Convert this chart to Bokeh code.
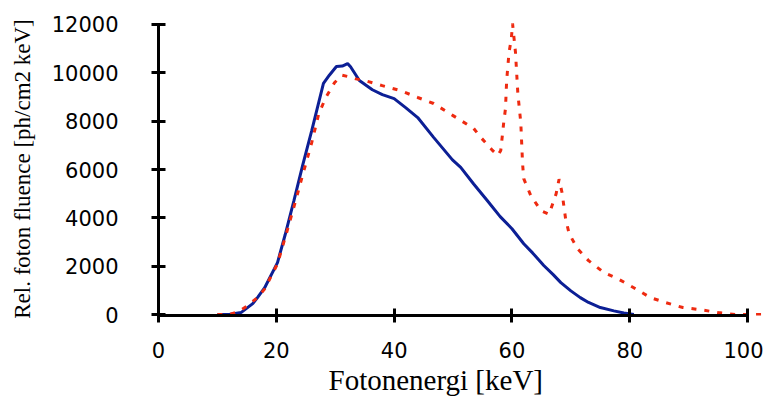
from bokeh.plotting import figure
from bokeh.models import Range1d, FixedTicker, Title
from bokeh.embed import file_html
from bokeh.resources import INLINE

# Spectrum 1 (solid, blue)
blue_kev = [10, 12, 14, 16, 16.8, 18, 20.2, 21.5, 23, 24.5, 26, 28, 29, 30.2, 31.2, 32.1, 32.6,
            34.1, 36.3, 38, 40, 42, 44, 46.7, 49.9, 51.3, 53.5, 55.8, 58, 60, 62, 63.5, 65.4,
            67, 68.3, 70, 71.6, 73, 75, 77.3, 79, 80.7]
blue_val = [0, 0, 80, 450, 700, 1100, 2150, 3300, 4720, 6200, 7600, 9560, 9900, 10260, 10280, 10380, 10250,
            9680, 9300, 9100, 8930, 8550, 8150, 7330, 6400, 6090, 5400, 4720, 4050, 3550, 2930, 2550, 2030,
            1650, 1320, 980, 700, 500, 290, 150, 60, 0]

# Spectrum 2 (dashed, red)
red_kev = [10, 12, 13.6, 15, 16.8, 18, 20.2, 22, 23.5, 24.5, 26, 27.2, 28.4, 29.9, 31.2, 32.1, 33.5,
           35, 38, 41, 44, 46.7, 50, 53.5, 54.7, 56.7, 57.6, 58.1, 58.6, 58.9, 59.1, 59.5, 59.9, 60.1,
           60.6, 61, 61.5, 61.8, 62, 63.2, 64.9, 66.3, 67.5, 68, 68.5, 69.1, 69.7, 71.1, 73, 75.6,
           77.9, 80.6, 83.5, 86, 89, 92, 95, 98, 102.6]
red_val = [0, 0, 120, 350, 700, 1050, 2100, 3600, 4900, 5800, 7100, 8300, 8980, 9600, 9900, 9850, 9750,
           9680, 9470, 9270, 8980, 8730, 8230, 7700, 7330, 6790, 6580, 6790, 7940, 8520, 9680, 10840, 11420, 12040,
           10840, 9140, 7940, 6250, 5620, 4920, 4300, 4150, 5000, 5600, 5050, 3970, 3350, 2730, 2230, 1740,
           1490, 1120, 700, 500, 290, 200, 80, 0, 0]

x_ticks = [0, 20, 40, 60, 80, 100]
y_ticks = [0, 2000, 4000, 6000, 8000, 10000, 12000]
x_title = "Fotonenergi [keV]"
y_title = "Rel. foton fluence [ph/cm2 keV]"

p = figure(width=763, height=401, output_backend="svg", toolbar_location=None,
           x_range=Range1d(0, 102.7), y_range=Range1d(-40, 12082),
           min_border_left=158, min_border_right=0, min_border_top=22, min_border_bottom=86)
p.outline_line_color = None
p.xgrid.visible = False
p.ygrid.visible = False
p.background_fill_color = "white"
p.border_fill_color = "white"

p.line(blue_kev, blue_val, line_color="#0c1f95", line_width=3)
p.line(red_kev, red_val, line_color="#ee2a10", line_width=3, line_dash="5 8")

for ax, ticks, bounds in ((p.xaxis[0], x_ticks, (0, 100)), (p.yaxis[0], y_ticks, (0, 12000))):
    ax.ticker = FixedTicker(ticks=ticks)
    ax.bounds = bounds
    ax.axis_line_color = "black"
    ax.axis_line_width = 3
    ax.major_tick_line_color = "black"
    ax.major_tick_line_width = 3
    ax.major_tick_in = 7
    ax.major_tick_out = 7
    ax.minor_tick_line_color = None
    ax.major_label_text_font = "DejaVu Sans"
    ax.major_label_text_font_size = "21px"
    ax.major_label_text_color = "black"
    ax.axis_label_text_font = "Liberation Serif"
    ax.axis_label_text_font_style = "normal"
    ax.axis_label_text_color = "black"

p.xaxis.major_label_standoff = 19

# x-axis title, placed as in the original (left of the frame centre)
p.add_layout(Title(text=x_title, align="left", offset=170, standoff=2,
                   text_font="Liberation Serif", text_font_size="29px",
                   text_font_style="normal", text_color="black"), "below")

p.yaxis.axis_label = y_title
p.yaxis.axis_label_text_font_size = "23px"
p.yaxis.major_label_standoff = 33
p.yaxis.axis_label_standoff = 14

open("out.html", "w").write(file_html(p, INLINE))
